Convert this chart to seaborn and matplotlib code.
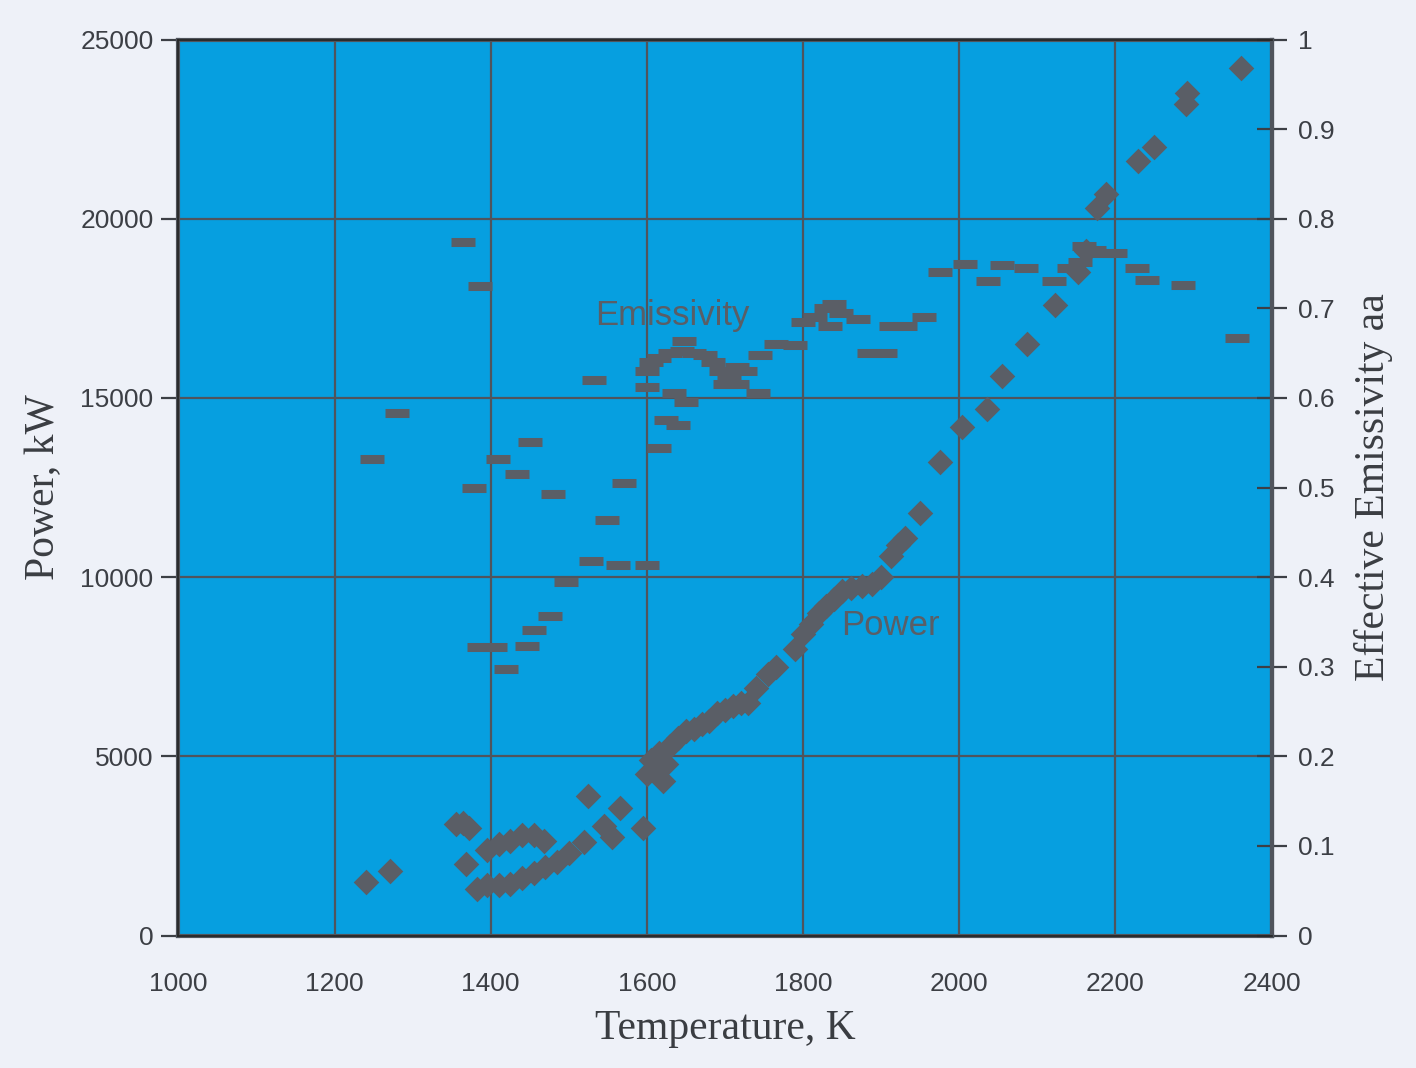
import matplotlib
matplotlib.use("Agg")
import matplotlib.pyplot as plt
import seaborn as sns
import pandas as pd

# power readings, kW (left axis)
power_temp = [1240, 1271, 1355, 1365, 1372, 1368, 1382, 1395, 1410, 1425, 1440, 1455, 1470,
              1485, 1500, 1395, 1410, 1425, 1440, 1455, 1468, 1520, 1525, 1545, 1555, 1565,
              1595, 1600, 1605, 1610, 1615, 1620, 1625, 1630, 1640, 1650, 1660, 1670, 1680,
              1690, 1700, 1710, 1720, 1730, 1740, 1755, 1765, 1790, 1800, 1810, 1820, 1830,
              1840, 1850, 1862, 1875, 1888, 1900, 1912, 1922, 1930, 1950, 1975, 2003, 2035,
              2055, 2087, 2123, 2152, 2162, 2177, 2188, 2229, 2249, 2290, 2292, 2361]
power_kw = [1500, 1800, 3100, 3150, 3000, 2000, 1300, 1400, 1400, 1450, 1600, 1750, 1900,
            2050, 2300, 2400, 2550, 2650, 2800, 2800, 2650, 2600, 3900, 3050, 2750, 3550,
            3000, 4500, 4900, 4600, 5100, 4300, 4800, 5300, 5500, 5700, 5750, 5900, 6000,
            6200, 6300, 6400, 6500, 6500, 6900, 7300, 7500, 8000, 8400, 8700, 9000, 9200,
            9400, 9600, 9700, 9750, 9800, 10000, 10600, 10900, 11100, 11800, 13200, 14200, 14700,
            15600, 16500, 17600, 18500, 19100, 20300, 20700, 21600, 22000, 23200, 23500, 24200]

# effective emissivity readings (right axis)
emis_temp = [1248, 1280, 1364, 1386, 1378, 1385, 1405, 1409, 1420, 1433, 1450, 1447, 1456,
             1480, 1476, 1497, 1532, 1528, 1549, 1571, 1563, 1600, 1600, 1615, 1625, 1640,
             1635, 1650, 1600, 1605, 1615, 1630, 1645, 1660, 1675, 1685, 1695, 1705, 1715,
             1725, 1700, 1715, 1648, 1745, 1765, 1742, 1790, 1800, 1815, 1830, 1840, 1848,
             1835, 1870, 1885, 1905, 1912, 1930, 1955, 1975, 2007, 2037, 2055, 2085, 2122,
             2140, 2155, 2160, 2172, 2185, 2200, 2228, 2240, 2287, 2356]
emissivity = [0.532, 0.583, 0.774, 0.725, 0.500, 0.322, 0.322, 0.532, 0.298, 0.515, 0.551, 0.323, 0.341,
              0.493, 0.357, 0.395, 0.620, 0.418, 0.464, 0.505, 0.413, 0.413, 0.612, 0.544, 0.575, 0.570,
              0.605, 0.595, 0.630, 0.640, 0.645, 0.650, 0.652, 0.650, 0.648, 0.640, 0.630, 0.625, 0.635,
              0.630, 0.615, 0.615, 0.663, 0.648, 0.660, 0.605, 0.659, 0.685, 0.690, 0.700, 0.705, 0.695,
              0.680, 0.688, 0.650, 0.650, 0.680, 0.680, 0.690, 0.740, 0.750, 0.730, 0.748, 0.745, 0.730,
              0.745, 0.752, 0.770, 0.765, 0.762, 0.762, 0.745, 0.732, 0.726, 0.667]

x_ticks = [1000, 1200, 1400, 1600, 1800, 2000, 2200, 2400]
y_ticks = [0, 5000, 10000, 15000, 20000, 25000]
e_ticks = [0, 0.1, 0.2, 0.3, 0.4, 0.5, 0.6, 0.7, 0.8, 0.9, 1]
e_labels = ["0", "0.1", "0.2", "0.3", "0.4", "0.5", "0.6", "0.7", "0.8", "0.9", "1"]

power = pd.DataFrame({"temp": power_temp, "power": power_kw})
emis = pd.DataFrame({"temp": emis_temp, "emis": emissivity})

sns.set_theme(style="white")
plt.rcParams["font.family"] = ["Liberation Sans", "DejaVu Sans"]

ink = "#5a5e66"
line = "#50545c"
label_col = "#3a3d42"
fig = plt.figure(figsize=(14.16, 10.68), dpi=100, facecolor="#eef1f8")
ax = fig.add_axes([0.126, 0.124, 0.772, 0.839])
ax.set_facecolor("#069fe0")

ax.grid(True, color=line, linewidth=1.6)
ax.set_axisbelow(True)

sns.scatterplot(data=power, x="temp", y="power", ax=ax, marker="D", s=170,
                color=ink, edgecolor=ink, linewidth=0, zorder=3)

ax.set_xlim(1000, 2400)
ax.set_ylim(0, 25000)
ax.set_xticks(x_ticks)
ax.set_yticks(y_ticks)
ax.tick_params(axis="both", labelsize=19, colors="#3c3f45", length=12, width=1.6,
               direction="out", pad=6)
ax.tick_params(axis="x", pad=14)
for side in ["left", "bottom", "top", "right"]:
    ax.spines[side].set_color(line)
    ax.spines[side].set_linewidth(3)

ax2 = ax.twinx()
sns.scatterplot(data=emis, x="temp", y="emis", ax=ax2, marker="_", s=320,
                color=ink, linewidth=6.5, zorder=3)
ax2.set_ylim(0, 1)
ax2.set_yticks(e_ticks)
ax2.set_yticklabels(e_labels)
ax2.tick_params(axis="y", labelsize=19, colors="#3c3f45", length=22, width=1.6,
                direction="inout", pad=8)
ax2.spines["right"].set_color(line)
ax2.spines["right"].set_linewidth(3)
ax2.set_xlim(1000, 2400)

serif = ["Liberation Serif", "DejaVu Serif"]
ax.set_xlabel("Temperature, K", fontsize=30, family=serif, color=label_col, labelpad=10)
ax.set_ylabel("Power, kW", fontsize=30, family=serif, color=label_col, labelpad=12)
ax2.set_ylabel("Effective Emissivity aa", fontsize=30, family=serif, color=label_col,
               labelpad=14)

ax.text(1632, 17300, "Emissivity", fontsize=25, color=ink, ha="center", va="center", zorder=4)
ax.text(1912, 8650, "Power", fontsize=25, color=ink, ha="center", va="center", zorder=4)

fig.savefig("out.png", dpi=100, facecolor=fig.get_facecolor())
